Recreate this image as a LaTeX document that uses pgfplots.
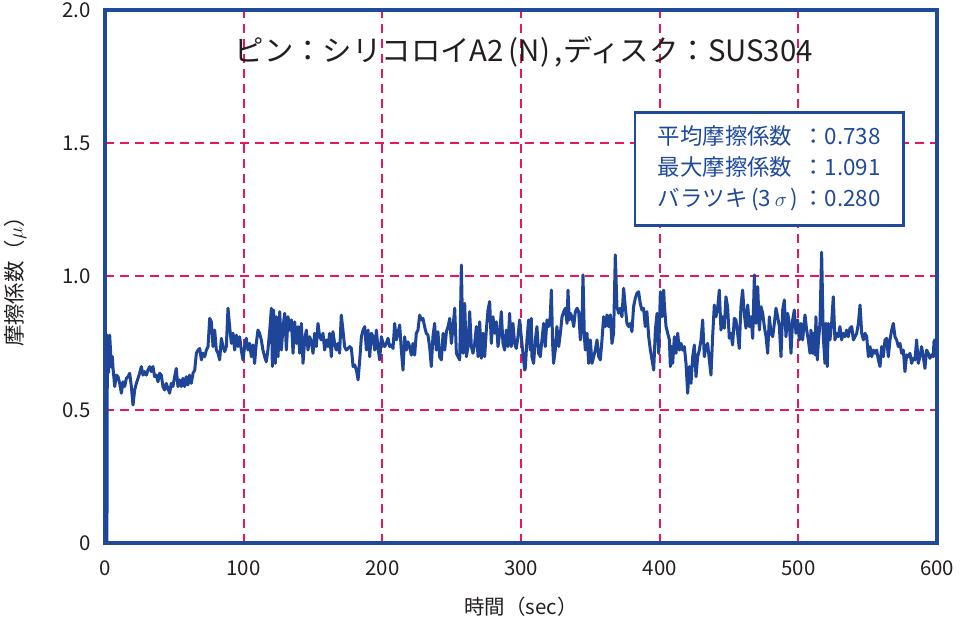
\documentclass[border=0pt]{standalone}
\usepackage{pgfplots}
\pgfplotsset{compat=1.18}
\usepackage{pgfplotstable}
\usepackage{fontspec}
\setmainfont{Noto Sans CJK JP}
\definecolor{frameblue}{HTML}{1F4A9C}
\definecolor{lineblue}{HTML}{1E4598}
\definecolor{gridpink}{HTML}{E8175D}
\definecolor{textgray}{HTML}{231F20}
\pgfplotstableread{
t v
1.4 0.0
1.7 0.78
2.6 0.64
3.4 0.78
4.6 0.66
5.3 0.70
5.8 0.655
7.0 0.587
8.2 0.63
9.4 0.624
10.6 0.599
11.8 0.562
13.0 0.605
14.2 0.587
15.4 0.618
16.6 0.624
17.8 0.637
19.0 0.587
20.2 0.518
21.4 0.574
22.6 0.599
23.8 0.618
25.0 0.637
26.2 0.662
27.4 0.630
28.6 0.643
29.8 0.630
31.0 0.649
32.2 0.662
33.4 0.643
34.6 0.662
35.8 0.624
37.0 0.630
38.2 0.605
39.4 0.637
40.6 0.630
41.8 0.587
43.0 0.574
44.2 0.599
45.4 0.580
46.6 0.562
47.8 0.599
49.0 0.587
50.2 0.624
51.4 0.655
52.6 0.587
53.8 0.612
55.0 0.587
56.2 0.618
57.4 0.587
58.6 0.624
59.8 0.593
61.0 0.630
62.2 0.599
63.5 0.637
64.7 0.649
65.9 0.712
67.1 0.724
68.3 0.730
69.5 0.687
70.7 0.712
71.9 0.699
73.1 0.724
74.3 0.737
75.5 0.843
76.7 0.830
77.9 0.737
79.1 0.799
80.3 0.724
81.5 0.712
82.7 0.687
83.9 0.768
85.1 0.737
86.3 0.718
87.5 0.737
88.7 0.881
89.9 0.812
91.1 0.749
92.3 0.787
93.5 0.724
94.7 0.780
95.9 0.737
97.1 0.774
98.3 0.724
99.5 0.687
100.7 0.737
101.9 0.768
103.1 0.724
104.3 0.749
105.5 0.699
106.7 0.743
107.9 0.674
109.1 0.749
110.3 0.799
111.5 0.787
112.7 0.762
113.9 0.724
115.1 0.699
116.3 0.680
117.5 0.724
118.8 0.799
120.0 0.881
120.7 0.662
121.6 0.874
122.8 0.674
123.6 0.849
124.8 0.699
126.0 0.868
127.2 0.724
128.4 0.812
129.6 0.862
130.8 0.724
132.0 0.849
133.2 0.799
134.4 0.837
135.6 0.712
136.8 0.830
138.0 0.749
139.2 0.812
140.4 0.712
141.6 0.824
142.8 0.674
144.0 0.762
145.2 0.799
146.4 0.724
147.6 0.774
148.8 0.755
150.0 0.712
151.2 0.787
152.4 0.737
153.6 0.824
154.8 0.774
156.0 0.762
157.2 0.787
158.4 0.724
159.6 0.762
160.8 0.737
162.0 0.787
163.2 0.699
164.4 0.793
165.6 0.749
166.8 0.724
168.0 0.749
169.2 0.712
170.4 0.855
171.6 0.799
172.8 0.737
174.0 0.724
175.3 0.730
176.5 0.737
177.7 0.730
178.9 0.662
180.1 0.668
181.3 0.649
182.5 0.612
183.7 0.687
184.9 0.774
186.1 0.799
187.3 0.812
188.5 0.724
189.7 0.799
190.9 0.699
192.1 0.787
193.3 0.774
194.5 0.724
195.7 0.799
196.9 0.730
198.1 0.687
199.3 0.774
200.5 0.749
201.7 0.737
202.9 0.749
204.1 0.768
205.3 0.737
206.5 0.743
207.7 0.730
208.9 0.824
210.1 0.762
211.3 0.787
212.5 0.818
213.7 0.724
214.9 0.649
216.1 0.774
217.3 0.724
218.5 0.755
219.7 0.737
220.9 0.705
222.1 0.749
223.3 0.705
224.5 0.787
225.7 0.799
226.9 0.855
228.1 0.837
229.3 0.843
230.5 0.812
231.7 0.787
232.9 0.780
234.1 0.737
235.3 0.662
236.5 0.774
237.7 0.824
238.9 0.724
240.1 0.793
241.3 0.699
242.6 0.687
243.8 0.787
245.0 0.724
246.2 0.793
247.4 0.812
248.6 0.843
249.8 0.749
251.0 0.812
252.2 0.881
253.4 0.712
254.6 0.699
255.8 0.687
257.0 1.043
258.2 0.712
259.4 0.899
260.6 0.699
261.8 0.737
263.0 0.868
264.2 0.737
265.4 0.712
266.6 0.749
267.8 0.812
269.0 0.699
270.2 0.830
271.4 0.693
272.6 0.787
273.8 0.699
275.0 0.799
276.2 0.874
277.4 0.906
278.6 0.749
279.8 0.849
281.0 0.787
282.2 0.830
283.4 0.737
284.6 0.787
285.8 0.868
287.0 0.749
288.2 0.724
289.4 0.799
290.6 0.737
291.8 0.862
293.0 0.737
294.2 0.824
295.4 0.749
296.6 0.730
297.8 0.774
299.0 0.837
300.2 0.774
301.4 0.712
302.6 0.649
303.1 0.655
304.3 0.762
305.5 0.837
306.7 0.724
307.4 0.843
307.9 0.699
309.1 0.674
310.3 0.762
311.5 0.812
312.7 0.712
313.9 0.699
315.1 0.762
316.3 0.824
317.5 0.737
318.7 0.837
319.9 0.812
321.1 0.849
321.9 0.949
322.8 0.749
323.5 0.674
324.7 0.724
325.9 0.812
327.2 0.737
328.4 0.787
329.6 0.849
330.8 0.868
332.0 0.881
333.2 0.824
333.9 0.949
334.8 0.837
335.6 0.862
336.8 0.849
338.0 0.812
339.2 0.868
340.4 0.881
341.6 0.868
342.8 0.762
344.0 0.824
344.7 1.006
345.7 0.774
346.4 0.724
347.6 0.787
348.8 0.674
350.0 0.762
351.2 0.674
352.4 0.699
353.6 0.724
354.8 0.762
356.0 0.699
357.2 0.687
358.4 0.762
359.6 0.849
360.8 0.812
362.0 0.856
363.2 0.812
364.4 0.856
365.6 0.749
366.8 0.787
368.0 1.081
369.2 0.887
370.4 0.862
371.6 0.881
372.8 0.849
374.0 0.956
375.2 0.887
376.4 0.824
377.6 0.812
378.8 0.824
380.0 0.793
381.2 0.887
382.4 0.918
383.6 0.937
384.8 0.943
386.0 0.899
387.2 0.874
388.4 0.881
389.6 0.812
390.8 0.868
392.1 0.774
393.3 0.724
394.5 0.687
395.7 0.649
396.9 0.799
398.1 0.862
399.3 0.712
400.5 0.943
401.7 0.849
402.9 0.949
403.4 0.893
404.6 0.812
405.8 0.787
407.0 0.762
407.7 0.662
408.6 0.737
409.4 0.674
410.6 0.774
411.8 0.712
413.0 0.787
414.2 0.724
415.4 0.749
416.6 0.724
417.8 0.737
419.0 0.674
420.2 0.562
421.4 0.662
422.6 0.599
423.8 0.699
425.0 0.743
426.2 0.624
427.4 0.699
428.6 0.724
429.8 0.762
431.0 0.837
432.2 0.699
433.4 0.737
434.6 0.749
435.8 0.687
437.0 0.630
438.2 0.774
439.4 0.893
440.6 0.849
441.8 0.881
443.0 0.949
444.2 0.799
445.4 0.849
446.6 0.806
447.8 0.924
449.0 0.887
450.2 0.768
451.4 0.787
452.6 0.743
453.8 0.843
455.0 0.837
456.2 0.787
457.4 0.730
458.6 0.887
459.8 0.949
461.0 0.862
462.2 0.806
463.5 0.893
464.7 0.812
465.9 0.849
467.1 0.768
468.3 1.006
469.5 0.824
470.7 0.962
471.9 0.799
473.1 0.887
474.3 0.862
475.5 0.812
476.7 0.774
477.9 0.712
479.1 0.849
480.3 0.787
481.5 0.774
482.7 0.824
483.9 0.881
485.1 0.849
486.3 0.812
487.5 0.699
488.7 0.874
489.9 0.912
491.1 0.774
492.3 0.862
493.5 0.824
494.7 0.712
495.9 0.837
497.1 0.874
498.3 0.787
499.5 0.837
500.7 0.762
501.9 0.824
503.1 0.762
504.8 0.856
506.0 0.799
507.2 0.762
508.4 0.712
509.1 0.799
510.1 0.712
510.8 0.787
512.0 0.706
512.7 0.849
513.7 0.687
514.4 0.749
515.6 0.824
516.8 1.091
518.0 0.774
519.2 0.674
519.9 0.824
520.9 0.662
521.6 0.824
522.8 0.762
524.0 0.824
525.2 0.924
526.4 0.762
527.6 0.787
528.8 0.774
530.0 0.812
531.2 0.762
532.4 0.787
533.6 0.774
534.8 0.799
536.0 0.774
537.2 0.806
538.5 0.812
539.7 0.762
540.9 0.774
542.1 0.787
543.3 0.824
544.5 0.893
545.7 0.787
546.9 0.762
548.1 0.787
549.3 0.774
550.5 0.699
551.7 0.737
552.9 0.699
554.1 0.724
555.3 0.712
556.5 0.724
557.7 0.687
558.9 0.662
560.1 0.737
561.3 0.699
562.5 0.762
563.7 0.768
564.9 0.699
566.1 0.762
567.3 0.799
568.5 0.824
569.7 0.774
570.9 0.762
572.1 0.737
573.3 0.749
574.5 0.712
575.7 0.724
576.9 0.643
578.1 0.706
579.3 0.699
580.5 0.712
581.7 0.674
582.9 0.693
584.1 0.687
585.3 0.762
586.5 0.674
587.7 0.699
588.9 0.737
590.1 0.699
591.3 0.655
592.5 0.724
593.7 0.712
594.9 0.693
596.1 0.706
597.3 0.699
597.8 0.755
598.8 0.765
}\mudata
\begin{document}
\begin{tikzpicture}
\begin{axis}[
  scale only axis, width=832bp, height=533bp,
  xmin=0, xmax=600, ymin=0, ymax=2,
  xtick={0,100,200,300,400,500,600},
  ytick={0,0.5,1,1.5,2},
  yticklabels={0,0.5,1.0,1.5,2.0},
  /pgf/number format/assume math mode=true,
  grid=major,
  major grid style={dash pattern=on 9bp off 6bp, color=gridpink, line width=2bp},
  axis line style={draw=frameblue, line width=3.4bp},
  every outer x axis line/.append style={line width=3.4bp},
  every outer y axis line/.append style={line width=3.4bp},
  major tick length=0pt,
  tick label style={font=\fontsize{20.5}{24}\selectfont, text=textgray},
  xticklabel style={yshift=-14bp},
  yticklabel style={xshift=-11bp},
  xlabel={時間（sec）},
  ylabel={摩擦係数（$\mu$）},
  every axis x label/.style={at={(axis description cs:0.5,-0.12)}, anchor=center, font=\fontsize{20.5}{24}\selectfont, text=textgray},
  every axis y label/.style={at={(axis description cs:-0.108,0.5)}, rotate=90, anchor=center, font=\fontsize{21.5}{24}\selectfont, text=textgray},
]
\addplot[color=lineblue, line width=3bp, line join=round] table[x=t, y=v] {\mudata};
\node[font=\fontsize{29.5}{34}\selectfont, text=textgray, anchor=center] at (axis cs:302,1.842) {ピン：シリコロイA2\,(N)\,,ディスク：SUS304};
\node[draw=frameblue, line width=2.4bp, fill=white, text=frameblue, font=\fontsize{22.5}{27}\selectfont, inner xsep=23bp, inner ysep=10bp, anchor=center] at (axis cs:479,1.403) {%
\renewcommand{\arraystretch}{1.15}%
\begin{tabular}{@{}l@{}l@{}}
平均摩擦係数 & ：0.738\\
最大摩擦係数 & ：1.091\\
バラツキ\,(3\,$\sigma$\,)\, & ：0.280
\end{tabular}};
\end{axis}
\pgfresetboundingbox
\path (current axis.south west) ++(-105bp,-85bp) rectangle ++(963bp,628bp);
\end{tikzpicture}
\end{document}
